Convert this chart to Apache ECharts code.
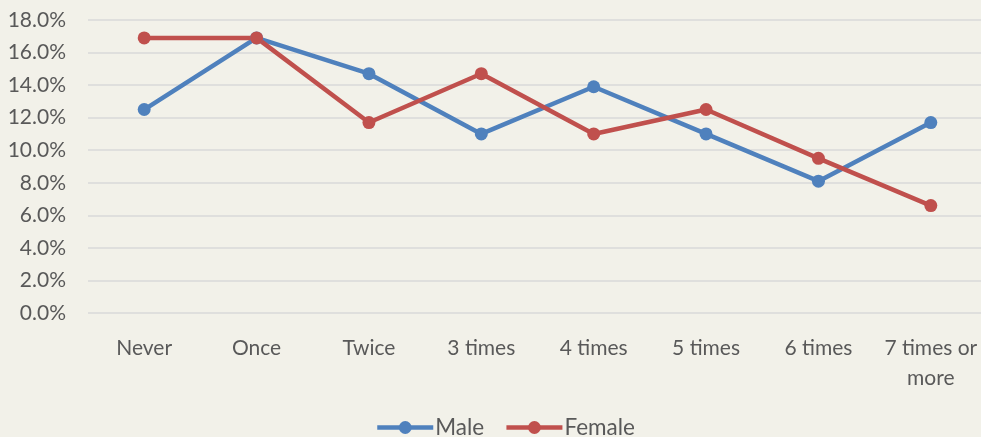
<!DOCTYPE html>
<html><head><meta charset="utf-8">
<script src="https://cdn.jsdelivr.net/npm/echarts@6/dist/echarts.min.js"></script>
<style>html,body{margin:0;padding:0;background:#F2F1E9;overflow:hidden;width:981px;height:437px;}#c{width:987px;height:437px;}</style>
</head><body><div id="c"></div>
<script>
const categories = ['Never','Once','Twice','3 times','4 times','5 times','6 times','7 times or\nmore'];
const male = [12.5, 16.9, 14.7, 11.0, 13.9, 11.0, 8.1, 11.7];
const female = [16.9, 16.9, 11.7, 14.7, 11.0, 12.5, 9.5, 6.6];
const font = 'Lato, "Open Sans", sans-serif';
const chart = echarts.init(document.getElementById('c'), null, {renderer:'canvas'});
chart.setOption({
  backgroundColor:'#F2F1E9',
  animation:false,
  textStyle:{fontFamily:font},
  grid:{left:88, right:0, top:20, height:293},
  legend:{top:416, left:375, padding:0, itemWidth:56, itemHeight:16, itemGap:20,
    lineStyle:{width:4.5},
    textStyle:{color:'#595959', fontSize:22.5, fontFamily:font, padding:[0,0,0,-3]},
    data:['Male','Female']},
  xAxis:{type:'category', data:categories, boundaryGap:true,
    axisLine:{show:false}, axisTick:{show:false},
    axisLabel:{color:'#595959', fontSize:21, margin:20, lineHeight:30, fontFamily:font, interval:0}},
  yAxis:{type:'value', min:0, max:18, interval:2,
    axisLine:{show:false}, axisTick:{show:false},
    splitLine:{lineStyle:{color:'#D9D9D9', width:1.5}},
    axisLabel:{color:'#595959', fontSize:21, margin:22, fontFamily:font,
      formatter:v=>v.toFixed(1)+'%'}},
  series:[
    {name:'Male', type:'line', data:male, symbol:'circle', symbolSize:13,
      lineStyle:{color:'#4F81BD', width:4.5}, itemStyle:{color:'#4F81BD'}},
    {name:'Female', type:'line', data:female, symbol:'circle', symbolSize:13,
      lineStyle:{color:'#C0504D', width:4.5}, itemStyle:{color:'#C0504D'}}
  ]
});
</script></body></html>
